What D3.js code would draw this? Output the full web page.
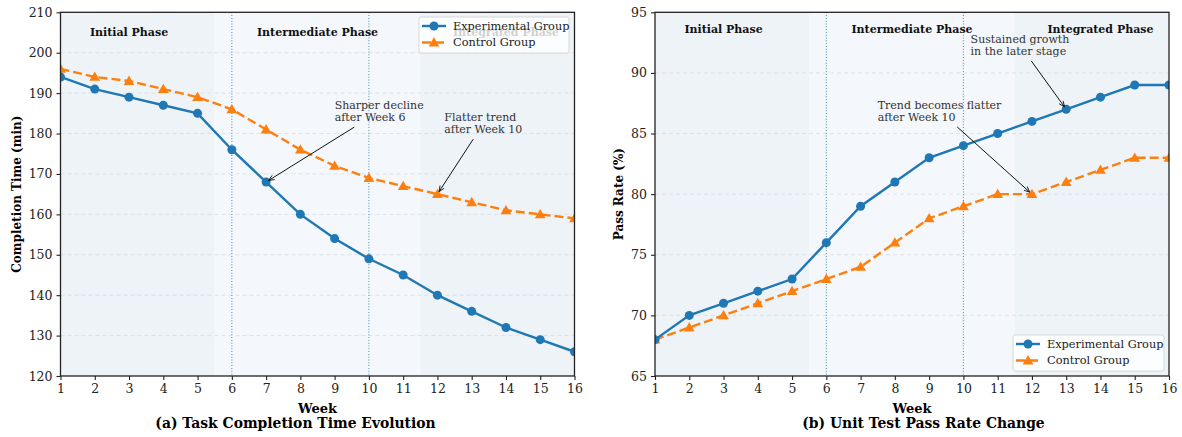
<!DOCTYPE html>
<html><head><meta charset="utf-8">
<script src="https://cdn.jsdelivr.net/npm/d3@7"></script>
<style>body{margin:0;background:#fff}svg text{font-family:"DejaVu Serif",serif}</style>
</head><body><svg id="c" width="1182" height="437"></svg>
<script>
const weeks = [1,2,3,4,5,6,7,8,9,10,11,12,13,14,15,16];
const xTicks = [1,2,3,4,5,6,7,8,9,10,11,12,13,14,15,16];
const timeExperimental = [194,191,189,187,185,176,168,160,154,149,145,140,136,132,129,126];
const timeControl = [196,194,193,191,189,186,181,176,172,169,167,165,163,161,160,159];
const passExperimental = [68,70,71,72,73,76,79,81,83,84,85,86,87,88,89,89];
const passControl = [68,69,70,71,72,73,74,76,78,79,80,80,81,82,83,83];
const timeTicks = [120,130,140,150,160,170,180,190,200,210];
const passTicks = [65,70,75,80,85,90,95];
const seriesNames = ["Experimental Group","Control Group"];
const phases = [
  {name:"Initial Phase", start:0.5, end:5.5, fill:"#eef3f8"},
  {name:"Intermediate Phase", start:5.5, end:11.5, fill:"#f4f7fb"},
  {name:"Integrated Phase", start:11.5, end:16.5, fill:"#eef3f8"}
];
const markerWeeks = [6,10];
const blue = "#1f77b4", orange = "#ff7f0e";

const svg = d3.select("#c");

function drawPanel(cfg){
  const g = svg.append("g");
  const x = d3.scaleLinear().domain([1,16]).range([cfg.x0,cfg.x1]);
  const y = d3.scaleLinear().domain(cfg.ydom).range([cfg.y1,cfg.y0]);
  const clipId = "clip"+cfg.id;
  svg.append("defs").append("clipPath").attr("id",clipId).append("rect")
    .attr("x",cfg.x0).attr("y",cfg.y0).attr("width",cfg.x1-cfg.x0).attr("height",cfg.y1-cfg.y0);
  const plot = g.append("g").attr("clip-path",`url(#${clipId})`);
  phases.forEach(p=>{
    plot.append("rect").attr("x",x(p.start)).attr("y",cfg.y0)
      .attr("width",x(p.end)-x(p.start)).attr("height",cfg.y1-cfg.y0).attr("fill",p.fill);
  });
  plot.selectAll(".grid").data(cfg.yticks).enter().append("line")
    .attr("x1",cfg.x0).attr("x2",cfg.x1).attr("y1",d=>y(d)).attr("y2",d=>y(d))
    .attr("stroke","#d9dde2").attr("stroke-width",0.8).attr("stroke-dasharray","4,3");
  markerWeeks.forEach(w=>{
    plot.append("line").attr("x1",x(w)).attr("x2",x(w)).attr("y1",cfg.y0).attr("y2",cfg.y1)
      .attr("stroke",blue).attr("stroke-opacity",0.75).attr("stroke-width",1.1).attr("stroke-dasharray","1,1.8");
  });
  phases.forEach(p=>{
    plot.append("text").attr("x",x((p.start+p.end)/2)).attr("y",cfg.phaseY)
      .attr("text-anchor","middle").attr("dominant-baseline","central")
      .attr("font-weight","bold").attr("font-size","11px").attr("fill","#111").text(p.name);
  });
  const line = d3.line().x((d,i)=>x(weeks[i])).y(d=>y(d));
  plot.append("path").datum(cfg.ctrl).attr("d",line).attr("fill","none")
    .attr("stroke",orange).attr("stroke-width",2.4).attr("stroke-dasharray","9,4");
  plot.append("path").datum(cfg.exp).attr("d",line).attr("fill","none")
    .attr("stroke",blue).attr("stroke-width",2.4);
  const tri = d3.symbol().type(d3.symbolTriangle).size(50);
  plot.selectAll(".tri").data(cfg.ctrl).enter().append("path")
    .attr("d",tri).attr("transform",(d,i)=>`translate(${x(weeks[i])},${y(d)+0.8})`).attr("fill",orange);
  plot.selectAll(".dot").data(cfg.exp).enter().append("circle")
    .attr("cx",(d,i)=>x(weeks[i])).attr("cy",d=>y(d)).attr("r",4.5).attr("fill",blue);
  g.append("rect").attr("x",cfg.x0).attr("y",cfg.y0).attr("width",cfg.x1-cfg.x0).attr("height",cfg.y1-cfg.y0)
    .attr("fill","none").attr("stroke","#222").attr("stroke-width",1.3);
  const xa = g.append("g").attr("transform",`translate(0,${cfg.y1})`)
    .call(d3.axisBottom(x).tickValues(xTicks).tickFormat(d3.format("d")).tickSize(4).tickPadding(4));
  const ya = g.append("g").attr("transform",`translate(${cfg.x0},0)`)
    .call(d3.axisLeft(y).tickValues(cfg.yticks).tickFormat(d3.format("d")).tickSize(4).tickPadding(4));
  [xa,ya].forEach(a=>{
    a.select(".domain").remove();
    a.selectAll("line").attr("stroke","#222").attr("stroke-width",1.1);
    a.selectAll("text").attr("font-size","12.5px").attr("fill","#222").style("font-family",'"DejaVu Serif",serif');
  });
  g.append("text").attr("x",(cfg.x0+cfg.x1)/2).attr("y",408).attr("text-anchor","middle")
    .attr("dominant-baseline","central").attr("font-weight","bold").attr("font-size","13px").text("Week");
  g.append("text").attr("transform",`translate(${cfg.ylabX},${(cfg.y0+cfg.y1)/2}) rotate(-90)`)
    .attr("text-anchor","middle").attr("dominant-baseline","central").attr("font-weight","bold")
    .attr("font-size","12px").text(cfg.ylabel);
  g.append("text").attr("x",cfg.titleX).attr("y",423).attr("text-anchor","middle")
    .attr("dominant-baseline","central").attr("font-weight","bold").attr("font-size","13.9px").text(cfg.title);
  svg.append("defs").append("marker").attr("id","arr"+cfg.id).attr("viewBox","0 0 10 10")
    .attr("refX",9).attr("refY",5).attr("markerWidth",7).attr("markerHeight",7).attr("orient","auto")
    .attr("markerUnits","userSpaceOnUse")
    .append("path").attr("d","M1,1.5 L9,5 L1,8.5").attr("fill","none").attr("stroke","#111").attr("stroke-width",1.2);
  cfg.notes.forEach(n=>{
    const t = g.append("text").attr("x",x(n.tx)).attr("y",y(n.ty)).attr("font-size","11px").attr("fill","#333");
    n.lines.forEach((s,i)=>t.append("tspan").attr("x",x(n.tx)).attr("dy",i===0?"0.35em":"12px").text(s));
    const b = t.node().getBBox();
    const pad = 3;
    const cx = b.x+b.width/2, cy = b.y+b.height/2;
    const px = x(n.px), py = y(n.py);
    const dx = px-cx, dy = py-cy;
    const hw = b.width/2+pad, hh = b.height/2+pad;
    const tt = Math.min(Math.abs(hw/dx)||Infinity, Math.abs(hh/dy)||Infinity);
    const sx = cx+dx*tt, sy = cy+dy*tt;
    const len = Math.hypot(dx,dy), shrink = 3;
    const ex = px-dx/len*shrink, ey = py-dy/len*shrink;
    g.append("line").attr("x1",sx).attr("y1",sy).attr("x2",ex).attr("y2",ey)
      .attr("stroke","#111").attr("stroke-width",1).attr("marker-end",`url(#arr${cfg.id})`);
  });
  const lg = g.append("g");
  lg.append("rect").attr("x",cfg.leg.x).attr("y",cfg.leg.y).attr("width",cfg.leg.w).attr("height",cfg.leg.h)
    .attr("rx",2).attr("fill","#fff").attr("fill-opacity",0.8).attr("stroke","#cfcfcf").attr("stroke-width",0.8);
  seriesNames.forEach((name,i)=>{
    const ry = cfg.leg.y+9+i*16.5;
    const lx = cfg.leg.x+3;
    lg.append("line").attr("x1",lx).attr("x2",lx+24).attr("y1",ry).attr("y2",ry)
      .attr("stroke",i===0?blue:orange).attr("stroke-width",2.4).attr("stroke-dasharray",i===0?null:"9,4");
    if(i===0) lg.append("circle").attr("cx",lx+12).attr("cy",ry).attr("r",4.5).attr("fill",blue);
    else lg.append("path").attr("d",tri).attr("transform",`translate(${lx+12},${ry+0.8})`).attr("fill",orange);
    lg.append("text").attr("x",lx+31).attr("y",ry).attr("dominant-baseline","central")
      .attr("font-size","11.3px").attr("fill","#222").text(name);
  });
}

drawPanel({id:"a", x0:60.5, x1:574.5, y0:12.3, y1:376, ydom:[120,210], yticks:timeTicks,
  exp:timeExperimental, ctrl:timeControl, phaseY:32.5, ylabX:17, ylabel:"Completion Time (min)",
  title:"(a) Task Completion Time Evolution", titleX:295.5,
  leg:{x:419,y:17,w:150,h:36},
  notes:[
    {tx:9, ty:187, lines:["Sharper decline","after Week 6"], px:7, py:168},
    {tx:12.2, ty:184, lines:["Flatter trend","after Week 10"], px:12, py:165}
  ]});
drawPanel({id:"b", x0:655, x1:1169, y0:12.3, y1:376, ydom:[65,95], yticks:passTicks,
  exp:passExperimental, ctrl:passControl, phaseY:29, ylabX:619, ylabel:"Pass Rate (%)",
  title:"(b) Unit Test Pass Rate Change", titleX:923.5,
  leg:{x:1013,y:335,w:151,h:36},
  notes:[
    {tx:7.5, ty:87.35, lines:["Trend becomes flatter","after Week 10"], px:12, py:80},
    {tx:10.21, ty:92.8, lines:["Sustained growth","in the later stage"], px:13, py:87}
  ]});
</script></body></html>
